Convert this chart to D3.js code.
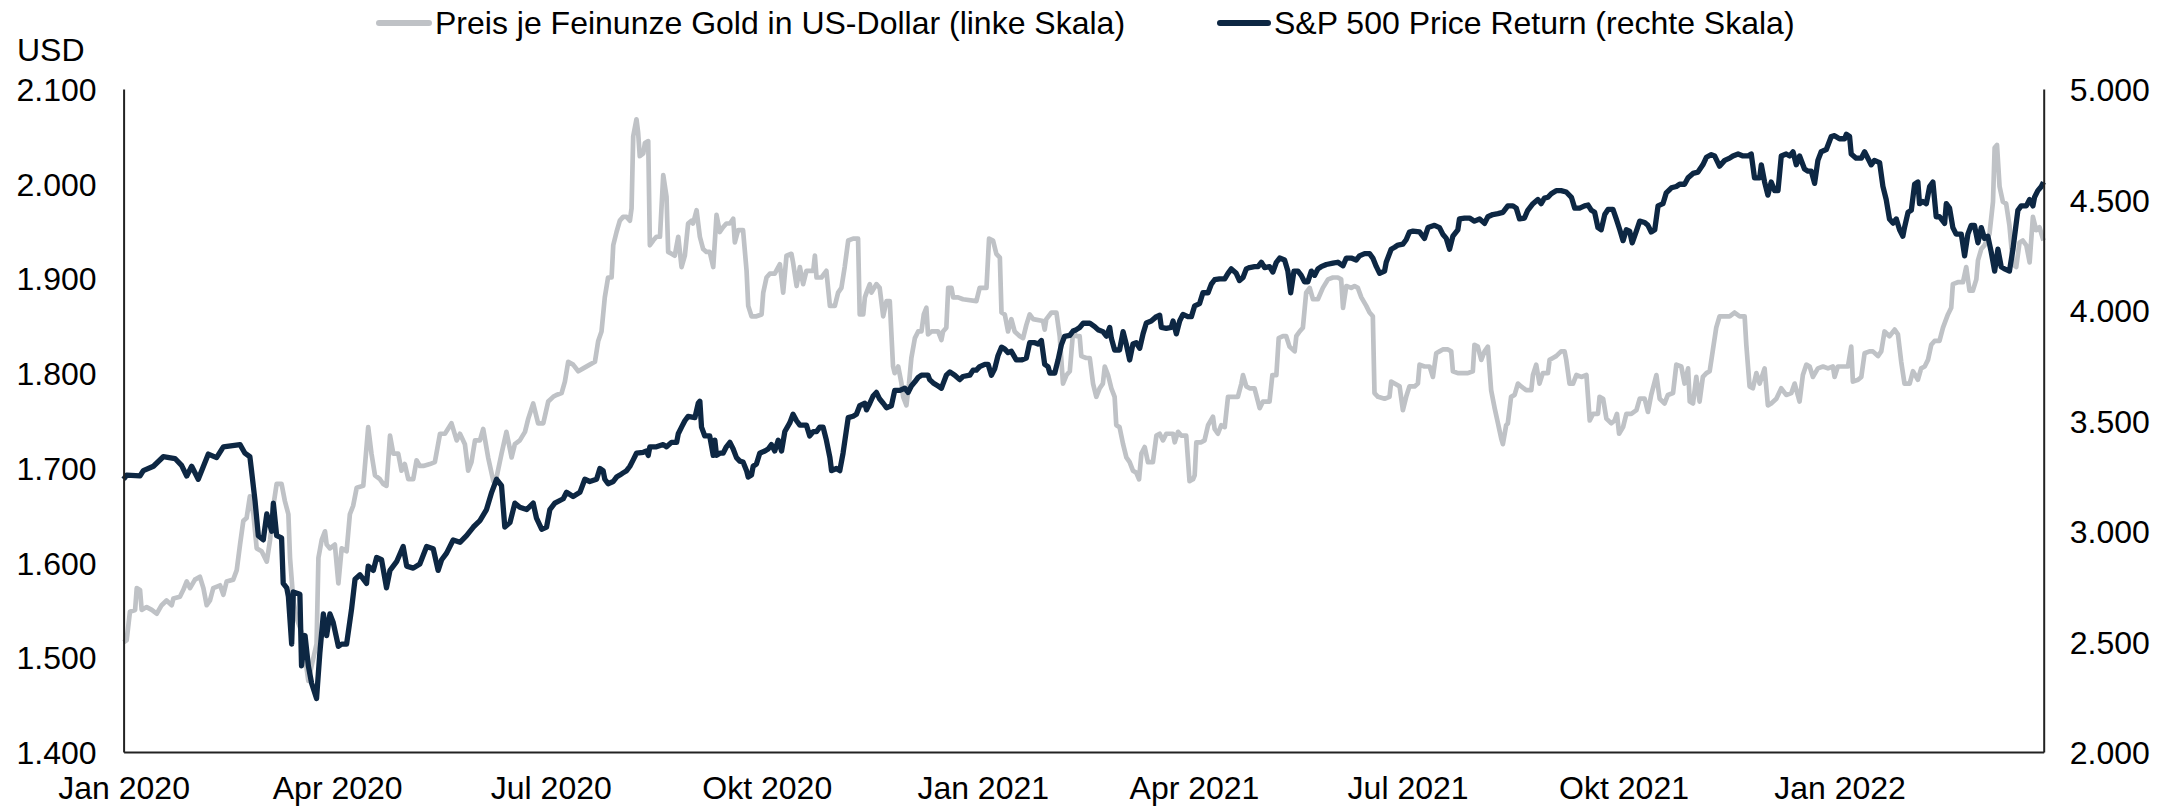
<!DOCTYPE html>
<html>
<head>
<meta charset="utf-8">
<script src="https://cdn.jsdelivr.net/npm/d3@7"></script>
<style>
  body { margin: 0; background: #fff; }
  svg { display: block; }
  text { font-family: "Liberation Sans", Arial, sans-serif; }
</style>
</head>
<body>
<svg id="chart" width="2177" height="806"></svg>
<script>
const START = '2020-01-01'
const END = '2022-03-29'

const xTickDates = ['2020-01-01', '2020-04-01', '2020-07-01', '2020-10-01', '2021-01-01', '2021-04-01', '2021-07-01', '2021-10-01', '2022-01-01']
const xTickLabels = ['Jan 2020', 'Apr 2020', 'Jul 2020', 'Okt 2020', 'Jan 2021', 'Apr 2021', 'Jul 2021', 'Okt 2021', 'Jan 2022']
const goldTicks = [1400, 1500, 1600, 1700, 1800, 1900, 2000, 2100]
const spxTicks = [2000, 2500, 3000, 3500, 4000, 4500, 5000]
const seriesNames = ['Preis je Feinunze Gold in US-Dollar (linke Skala)', 'S&P 500 Price Return (rechte Skala)']

// [days since 1 Jan 2020, USD per ounce]
const gold = [
  [0,1516],[1.3,1518],[2.7,1548],[4.9,1550],[5.6,1573],[7,1571],[7.7,1550],[9.8,1553],[12,1550],[14.1,1546],
  [16.2,1555],[18.3,1560],[20.5,1555],[21.2,1562],[24,1564],[25.4,1571],[26.9,1580],[28.3,1573],[30.4,1582],[32.5,1585],
  [34,1573],[35.4,1555],[36.8,1560],[38.2,1573],[41.1,1576],[42.5,1566],[43.9,1580],[46.7,1582],[48.2,1592],[49.6,1619],
  [51,1644],[52.4,1647],[53.8,1670],[55.3,1651],[56.7,1615],[58.8,1612],[61,1601],[62.4,1624],[63.8,1660],[65.2,1683],
  [67.3,1683],[68.7,1665],[70.2,1651],[70.9,1605],[72.3,1560],[73.7,1541],[75.8,1527],[77.3,1500],[78.7,1475],[80.1,1491],
  [82.2,1514],[83,1605],[84.4,1624],[85.8,1633],[86.5,1619],[87.9,1615],[90,1619],[91.5,1578],[92.9,1615],[95,1612],
  [96.4,1651],[97.8,1660],[99.3,1679],[102.1,1681],[104.2,1743],[105.6,1715],[107.1,1692],[109.2,1688],[110.6,1683],[112,1681],
  [113.5,1734],[114.9,1715],[117,1715],[118.4,1697],[119.8,1704],[121.3,1688],[123.4,1688],[124.8,1708],[126.2,1702],[127.7,1702],
  [130.5,1704],[132.6,1706],[134.8,1736],[136.9,1736],[139.7,1747],[141.9,1729],[143.3,1736],[145.4,1725],[146.8,1697],[148.2,1706],
  [149.7,1729],[151.8,1729],[153.2,1741],[155.3,1711],[157.5,1686],[158.9,1690],[161,1715],[163.1,1738],[165.3,1711],[166.7,1725],
  [168.8,1729],[171,1738],[172.4,1752],[174.5,1768],[176.6,1747],[178.8,1747],[180.9,1770],[183,1775],[184.4,1777],[186.6,1779],
  [188,1791],[189.4,1812],[191.5,1809],[193.7,1802],[195.8,1805],[198.6,1809],[200.8,1812],[202.2,1834],[203.6,1844],[205,1880],
  [206.4,1901],[207.9,1901],[208.6,1935],[210,1949],[211.4,1961],[212.8,1965],[214.3,1965],[215.7,1961],[216.4,1974],[217.1,2050],
  [218.5,2068],[219.2,2054],[219.9,2029],[221.4,2032],[222.1,2043],[223.5,2045],[224.2,1935],[225.6,1940],[227,1944],[228.5,1944],
  [229.9,2009],[231.3,1986],[232,1928],[233.4,1926],[234.8,1924],[236.3,1944],[237.7,1912],[239.1,1924],[240.5,1958],[241.9,1961],
  [242.6,1958],[244.1,1972],[245.5,1944],[246.9,1931],[248.3,1928],[249.7,1928],[251.2,1912],[252.6,1967],[254,1949],[255.4,1954],
  [256.8,1958],[258.3,1958],[259.7,1963],[260.4,1938],[261.8,1951],[263.9,1951],[265.4,1908],[266.1,1871],[267.5,1860],[269.6,1860],
  [271.8,1862],[272.5,1885],[273.9,1901],[275.3,1905],[277.4,1905],[279.6,1915],[281,1885],[282.4,1924],[284.5,1926],[285.2,1917],
  [286.7,1892],[288.1,1912],[289.5,1894],[290.9,1908],[293.8,1908],[294.5,1924],[295.2,1901],[297.3,1901],[299.4,1908],[300.9,1871],
  [303,1871],[304.4,1885],[305.8,1890],[307.2,1912],[308.7,1940],[310.8,1942],[312.9,1942],[313.6,1862],[315.1,1862],[315.8,1880],
  [316.5,1885],[317.9,1894],[318.6,1885],[320.7,1894],[322.1,1890],[323.6,1860],[325,1876],[326.4,1876],[327.8,1807],[328.5,1800],
  [330,1807],[331.4,1789],[332.1,1775],[333.5,1766],[334.6,1789],[335.6,1816],[337.1,1837],[338.5,1844],[339.9,1844],[340.9,1862],
  [342,1869],[342.7,1841],[344.2,1844],[347,1844],[348.4,1835],[349.1,1844],[350.5,1848],[351.3,1890],[352.7,1890],[353.4,1880],
  [355.5,1880],[357.6,1878],[363.3,1876],[364.7,1890],[367.6,1890],[368.7,1942],[370.4,1940],[371.8,1926],[373.3,1922],[374,1864],
  [375.4,1862],[376.8,1844],[378.2,1857],[379.6,1844],[381.8,1839],[383.2,1837],[384.6,1851],[386,1862],[387.5,1857],[391.7,1855],
  [392.4,1846],[393.1,1857],[395.3,1864],[397.4,1864],[398.8,1839],[400.2,1789],[401.7,1798],[403.1,1802],[404.5,1844],[405.9,1839],
  [407.3,1839],[408,1818],[410.1,1816],[411.6,1816],[413,1789],[414.4,1775],[415.8,1784],[417.2,1789],[418,1807],[419.4,1798],
  [420.8,1784],[422.2,1775],[422.9,1745],[424.3,1743],[425.8,1725],[427.2,1711],[428.6,1706],[430,1697],[431.4,1695],[432.6,1688],
  [433.6,1715],[435,1722],[436.4,1706],[438.5,1706],[440,1734],[441.4,1736],[442.8,1729],[444.2,1736],[447.1,1736],[447.8,1727],
  [449.2,1738],[450.6,1734],[452.7,1734],[454.1,1686],[455.6,1688],[456.3,1692],[457,1727],[459.1,1727],[460.5,1729],[462,1745],
  [464.1,1754],[464.8,1741],[466.2,1736],[467.6,1745],[469.1,1743],[470.5,1775],[472.6,1775],[474.7,1775],[476.2,1789],[476.9,1798],
  [478.3,1786],[479.7,1784],[481.8,1784],[484,1763],[485.4,1770],[488.2,1770],[489.4,1798],[491.1,1798],[492.1,1837],[493.9,1839],
  [495.3,1839],[496.7,1828],[498.9,1823],[499.6,1839],[501,1844],[502.4,1848],[503.8,1885],[505.3,1890],[506.7,1878],[508.8,1878],
  [510.9,1890],[513.1,1899],[515.2,1901],[517.3,1901],[518.7,1899],[519.5,1869],[520.9,1892],[523,1890],[524.4,1892],[525.8,1890],
  [527.3,1880],[529.4,1871],[530.8,1864],[532.2,1860],[532.9,1779],[534.4,1775],[537.2,1773],[539.3,1775],[540,1791],[541.5,1789],
  [543.6,1786],[545,1761],[546.4,1775],[547.8,1786],[550,1786],[551.4,1789],[552.1,1809],[554.2,1807],[556.4,1807],[557.8,1796],
  [559.2,1821],[560.6,1823],[562,1825],[564.2,1825],[565.6,1823],[566.3,1802],[568.4,1800],[572.7,1800],[574.8,1802],[575.5,1830],
  [576.9,1828],[578.4,1814],[579.8,1823],[581.2,1828],[582.6,1782],[584.1,1763],[585.5,1747],[586.9,1731],[587.6,1725],[589,1745],
  [589.7,1747],[591.1,1775],[592.6,1777],[594,1789],[595.4,1786],[597.5,1782],[599.7,1782],[600.4,1798],[601.8,1809],[603.2,1789],
  [604.6,1800],[606.8,1800],[607.5,1814],[608.9,1816],[610.3,1818],[612.4,1823],[613.9,1823],[614.6,1814],[616,1789],[617.5,1789],
  [618.9,1798],[621,1796],[623.2,1798],[624.6,1750],[626,1757],[628.1,1757],[628.8,1775],[630.3,1773],[631.7,1752],[633.8,1747],
  [635.2,1750],[636.2,1757],[637.1,1736],[638.8,1743],[640.2,1757],[642.3,1757],[644.5,1761],[645.9,1773],[648,1773],[649.4,1759],
  [650.8,1777],[653,1798],[654.4,1773],[656.5,1768],[657.9,1777],[660.1,1779],[661.5,1809],[663.6,1807],[665,1789],[666.5,1805],
  [667.2,1770],[668.6,1768],[670,1796],[671.4,1770],[672.8,1796],[674.3,1800],[675.7,1802],[677.1,1825],[678.5,1848],[679.9,1860],
  [682.1,1860],[684.2,1860],[686.3,1864],[688.5,1860],[690.6,1860],[691.3,1830],[692.7,1786],[694.1,1784],[695.6,1800],[697,1789],
  [699.1,1805],[700.5,1766],[701.9,1768],[704.1,1773],[706.2,1784],[708.3,1777],[710.5,1779],[711.9,1789],[714,1770],[715.4,1798],
  [716.9,1809],[718.3,1807],[719.7,1796],[721.8,1805],[724,1807],[726.1,1805],[728.2,1807],[728.9,1796],[730.3,1807],[734.6,1807],
  [736,1828],[736.7,1791],[738.9,1793],[740.3,1796],[741.7,1821],[743.8,1823],[745.2,1823],[747.4,1818],[748.8,1823],[750.2,1844],
  [752.3,1839],[754.5,1846],[755.9,1841],[757.3,1812],[758.7,1789],[760.9,1789],[762.3,1802],[764.4,1793],[765.8,1805],[767.3,1807],
  [768.7,1814],[770.1,1830],[771.5,1834],[773.6,1834],[775.1,1848],[777.2,1862],[778.6,1869],[779.3,1894],[781.4,1896],[783.6,1896],
  [785,1912],[786.4,1887],[787.8,1887],[789.3,1899],[790,1919],[791.4,1931],[792.8,1935],[794.9,1947],[796.4,1981],[797.1,2038],
  [798.1,2041],[799.2,1997],[800.6,1981],[802,1979],[803.4,1956],[804.9,1915],[806.3,1912],[807.7,1938],[809.1,1940],[810.6,1935],
  [812,1917],[813.4,1965],[814.8,1951],[816.2,1954],[817.9,1940]
]

// [days since 1 Jan 2020, index points]
const spx = [
  [0,3234],[1.3,3253],[7,3249],[8.4,3273],[12.7,3293],[16.9,3336],[21.9,3328],[24.7,3297],[26.9,3249],[29,3293],
  [31.8,3234],[36.1,3348],[39.6,3332],[42.5,3381],[49.6,3391],[51.7,3352],[53.8,3336],[54.5,3273],[56,3136],[57.4,2979],
  [59.5,2960],[61,3077],[63.1,2999],[63.8,3126],[65.2,2979],[67.3,2969],[68,2763],[69.5,2743],[70.2,2704],[71.6,2488],
  [72.3,2724],[75.1,2714],[75.8,2390],[77.3,2527],[78.7,2390],[80.1,2311],[82.2,2242],[83.6,2448],[85.1,2625],[86.5,2527],
  [87.9,2625],[89.3,2586],[91.5,2478],[92.9,2488],[95,2488],[97.1,2645],[98.6,2782],[100.7,2802],[103.5,2763],[104.2,2841],
  [106.4,2822],[107.8,2880],[109.9,2870],[112,2743],[113.5,2822],[116.3,2861],[119.1,2930],[120.6,2841],[123.4,2832],[126.2,2851],
  [129.1,2930],[131.9,2920],[134,2822],[135.5,2870],[137.6,2900],[140.4,2959],[143.3,2949],[146.1,2979],[149,3018],[151.8,3047],
  [154.6,3097],[156.8,3175],[158.9,3234],[161,3205],[162.4,3018],[164.6,3038],[166.7,3126],[168.8,3107],[171.7,3097],[174.5,3126],
  [175.9,3058],[178.1,3008],[180.2,3018],[181.6,3097],[183.7,3126],[187.3,3146],[188.7,3175],[191.5,3156],[194.4,3175],[196.5,3234],
  [198.6,3224],[201.5,3234],[202.9,3283],[204.3,3273],[205,3234],[206.4,3214],[208.6,3224],[210,3244],[211.4,3253],[212.8,3263],
  [214.3,3273],[215.7,3293],[217.1,3322],[218.5,3352],[221.4,3356],[222.8,3362],[223.5,3342],[224.2,3381],[227,3381],[229.9,3391],
  [231.3,3381],[233.4,3401],[235.6,3401],[236.3,3440],[237.7,3470],[239.1,3499],[240.5,3519],[243.4,3513],[244.8,3578],[245.5,3587],
  [246.2,3470],[247.6,3430],[249.7,3430],[251.2,3342],[251.9,3411],[252.6,3342],[254,3352],[255.4,3352],[256.8,3381],[258.3,3401],
  [259.7,3371],[261.1,3332],[262.5,3316],[263.9,3312],[265.4,3273],[266.1,3244],[267.5,3253],[268.2,3293],[269.6,3303],[271,3352],
  [273.2,3362],[274.6,3371],[276,3391],[277.4,3362],[278.9,3411],[280.3,3362],[281.7,3450],[283.8,3489],[285.2,3528],[286.7,3499],
  [288.1,3479],[290.9,3479],[292.3,3430],[293.8,3450],[295.2,3450],[296.6,3470],[298,3470],[299.4,3411],[300.9,3332],[301.6,3273],
  [303.7,3283],[305.1,3273],[306.5,3352],[308.7,3513],[310.8,3519],[312.2,3528],[313.6,3567],[315.8,3578],[316.5,3548],[317.9,3578],
  [319.3,3611],[320.7,3627],[322.1,3597],[323.6,3578],[325,3558],[327.1,3567],[328.5,3636],[330.7,3636],[332.8,3646],[334.2,3627],
  [335.6,3656],[337.1,3675],[338.5,3695],[339.9,3705],[342.7,3705],[343.4,3685],[344.9,3670],[347,3656],[348.4,3646],[349.1,3666],
  [350.5,3705],[352,3720],[354.1,3705],[356.2,3685],[357.6,3699],[360.5,3705],[361.9,3728],[363.3,3728],[364.7,3744],[366.9,3754],
  [368.3,3754],[369.7,3705],[371.1,3734],[372.5,3793],[374,3832],[375.4,3823],[376.8,3807],[378.2,3813],[380.3,3774],[382.5,3774],
  [384.6,3783],[386,3852],[388.2,3852],[389.6,3846],[391,3862],[392.4,3754],[393.8,3744],[394.6,3715],[396.7,3715],[398.1,3774],
  [399.5,3842],[400.9,3881],[403.1,3885],[404.5,3905],[405.9,3911],[407.3,3921],[408.8,3940],[411.6,3941],[413.7,3925],[415.1,3911],
  [417.2,3902],[418.7,3882],[420.1,3921],[420.8,3872],[422.2,3819],[424.3,3819],[425.8,3902],[427.2,3843],[428.6,3774],[430,3846],
  [431.4,3852],[432.9,3827],[434.3,3892],[435.7,3941],[437.8,3950],[440,3970],[441.4,3976],[442.1,3921],[444.2,3917],[446.3,3921],
  [447.1,3950],[448.5,3892],[449.9,3950],[451.3,3980],[453.4,3970],[454.9,3970],[456.3,4019],[458.4,4029],[459.8,4078],[462,4078],
  [463.4,4117],[464.8,4137],[466.9,4141],[469.1,4141],[470.5,4166],[471.9,4186],[474,4166],[475.4,4133],[476.9,4147],[478.3,4186],
  [479.7,4192],[481.8,4196],[483.3,4196],[484.7,4216],[486.1,4192],[488.2,4196],[489.6,4172],[491.1,4216],[492.5,4235],[494.6,4226],
  [496,4176],[497.2,4078],[498.6,4176],[500.3,4176],[501.7,4157],[503.1,4127],[504.5,4127],[506,4176],[507.4,4157],[508.8,4186],
  [510.2,4196],[512.4,4206],[515.2,4212],[517.3,4216],[519.5,4200],[520.9,4235],[523,4235],[525.1,4226],[526.5,4245],[528.7,4255],
  [530.8,4255],[532.2,4235],[533.7,4196],[535.1,4166],[537.2,4176],[537.9,4216],[540,4275],[541.5,4284],[542.9,4294],[545,4298],
  [546.4,4318],[547.8,4353],[549.3,4357],[552.1,4353],[554.2,4324],[555.7,4373],[558.5,4383],[560.6,4373],[562,4343],[563.5,4324],
  [564.9,4275],[566.3,4334],[568.4,4363],[569.1,4412],[571.3,4416],[573.4,4416],[575.5,4402],[577.7,4412],[579.8,4392],[581.2,4422],
  [583.3,4432],[585.5,4436],[587.6,4442],[589.7,4471],[591.9,4471],[593.3,4461],[594.7,4412],[596.8,4416],[598.2,4451],[600.4,4481],
  [602.5,4500],[603.9,4481],[605.3,4506],[606.8,4510],[608.2,4526],[610.3,4540],[612.4,4540],[614.6,4534],[616.8,4510],[618.2,4461],
  [620.3,4461],[622.4,4471],[623.9,4475],[625.3,4451],[626.7,4442],[628.1,4373],[629.5,4363],[631,4432],[632.4,4455],[634.5,4455],
  [635.9,4412],[637.4,4363],[638.8,4314],[640.2,4363],[641.6,4357],[642.7,4304],[644.2,4349],[645.9,4402],[648,4396],[649.4,4383],
  [650.8,4353],[652.3,4363],[653.7,4471],[655.8,4481],[657.2,4530],[659.4,4553],[661.5,4559],[662.9,4569],[665,4569],[666.5,4598],
  [668.6,4618],[670.7,4624],[672.8,4657],[674.3,4691],[676.4,4703],[677.8,4697],[679.9,4651],[682.1,4677],[684.2,4687],[685.6,4697],
  [687.8,4706],[689.9,4697],[692,4697],[693.4,4706],[694.8,4598],[697,4598],[697.7,4657],[699.1,4579],[700.5,4520],[701.9,4579],
  [703.4,4540],[704.8,4540],[706.2,4697],[708.3,4706],[709.8,4697],[711.2,4716],[712.6,4657],[714,4697],[716.1,4638],[717.6,4628],
  [719,4628],[720.4,4573],[721.8,4677],[723.2,4716],[725.4,4726],[727.5,4785],[728.9,4789],[731,4775],[733.2,4775],[733.9,4795],
  [735.3,4785],[736,4706],[738.1,4687],[740.3,4687],[741.7,4716],[743.1,4687],[744.5,4657],[745.9,4677],[748.1,4667],[749.5,4559],
  [750.9,4500],[752.3,4412],[753.8,4393],[755.2,4412],[756.6,4363],[758,4334],[758.7,4373],[760.2,4442],[761.6,4451],[763,4569],
  [764.4,4579],[765.1,4481],[766.5,4491],[768,4481],[769.4,4559],[770.8,4579],[772.2,4422],[773.6,4422],[775.8,4392],[776.5,4481],
  [777.9,4461],[779.3,4373],[780.7,4343],[782.9,4343],[784.3,4245],[785.7,4343],[787.1,4383],[788.5,4383],[790,4304],[791.4,4373],
  [792.8,4324],[794.2,4334],[795.6,4265],[797.1,4176],[798.5,4275],[799.9,4196],[801.3,4186],[803.4,4176],[804.9,4275],[805.6,4334],
  [807,4451],[808.4,4471],[810.6,4471],[812,4500],[813.4,4471],[814.1,4510],[815.5,4540],[817,4559],[817.9,4579]
]

const GOLD_COLOR = '#bfc2c6'
const SPX_COLOR = '#0d2743'
const FONT_SIZE = 32

const svg = d3.select('#chart')
const W = 2177
const H = 806
const plotLeft = 123.6
const plotRight = 2043.7
const plotTop = 89
const plotBottom = 752

svg.append('rect').attr('width', W).attr('height', H).attr('fill', '#fff')

const parse = d3.utcParse('%Y-%m-%d')
const t0 = parse(START)
const dayToDate = (d) => new Date(t0.getTime() + d * 864e5)

const x = d3.scaleUtc().domain([t0, parse(END)]).range([plotLeft, plotRight])
const yGold = d3.scaleLinear().domain([1400, 2100]).range([plotBottom, plotTop])
const ySpx = d3.scaleLinear().domain([2000, 5000]).range([plotBottom, plotTop])

const de = d3.formatLocale({ decimal: ',', thousands: '.', grouping: [3], currency: ['', ' €'] })
const fmt = de.format(',.0f')

function styleAxis(g) {
  g.selectAll('path.domain').attr('stroke', '#222').attr('stroke-width', 2)
  g.selectAll('.tick line').remove()
  g.selectAll('text')
    .attr('font-size', FONT_SIZE)
    .attr('font-family', '"Liberation Sans", Arial, sans-serif')
    .attr('fill', '#000')
}

// lines first, axes on top of them
const goldLine = d3.line().x((d) => x(dayToDate(d[0]))).y((d) => yGold(d[1]))
const spxLine = d3.line().x((d) => x(dayToDate(d[0]))).y((d) => ySpx(d[1]))

svg.append('path')
  .datum(gold)
  .attr('d', goldLine)
  .attr('fill', 'none')
  .attr('stroke', GOLD_COLOR)
  .attr('stroke-width', 4.7)
  .attr('stroke-linejoin', 'round')

svg.append('path')
  .datum(spx)
  .attr('d', spxLine)
  .attr('fill', 'none')
  .attr('stroke', SPX_COLOR)
  .attr('stroke-width', 5.3)
  .attr('stroke-linejoin', 'round')

svg.append('g')
  .attr('transform', `translate(${plotLeft},0)`)
  .call(d3.axisLeft(yGold).tickValues(goldTicks).tickFormat(fmt).tickSize(0).tickSizeOuter(0).tickPadding(27))
  .call(styleAxis)
  .selectAll('text').attr('dy', '0.36em')

svg.append('g')
  .attr('transform', `translate(${plotRight},0)`)
  .call(d3.axisRight(ySpx).tickValues(spxTicks).tickFormat(fmt).tickSize(0).tickSizeOuter(0).tickPadding(26))
  .call(styleAxis)
  .selectAll('text').attr('dy', '0.36em')

svg.append('g')
  .attr('transform', `translate(0,${plotBottom})`)
  .call(d3.axisBottom(x)
    .tickValues(xTickDates.map(parse))
    .tickFormat((d, i) => xTickLabels[i])
    .tickSize(0).tickSizeOuter(0).tickPadding(24))
  .call(styleAxis)

svg.append('text')
  .attr('x', 17)
  .attr('y', 60.5)
  .attr('font-size', FONT_SIZE)
  .attr('fill', '#000')
  .text('USD')

// legend
const legend = [
  { name: seriesNames[0], color: GOLD_COLOR, x1: 379, x2: 429, tx: 435 },
  { name: seriesNames[1], color: SPX_COLOR, x1: 1220, x2: 1268, tx: 1274 }
]

const items = svg.selectAll('g.legend').data(legend).join('g').attr('class', 'legend')

items.append('line')
  .attr('x1', (d) => d.x1)
  .attr('x2', (d) => d.x2)
  .attr('y1', 23)
  .attr('y2', 23)
  .attr('stroke', (d) => d.color)
  .attr('stroke-width', 6)
  .attr('stroke-linecap', 'round')

items.append('text')
  .attr('x', (d) => d.tx)
  .attr('y', 33.5)
  .attr('font-size', FONT_SIZE)
  .attr('fill', '#000')
  .text((d) => d.name)
</script>
</body>
</html>
